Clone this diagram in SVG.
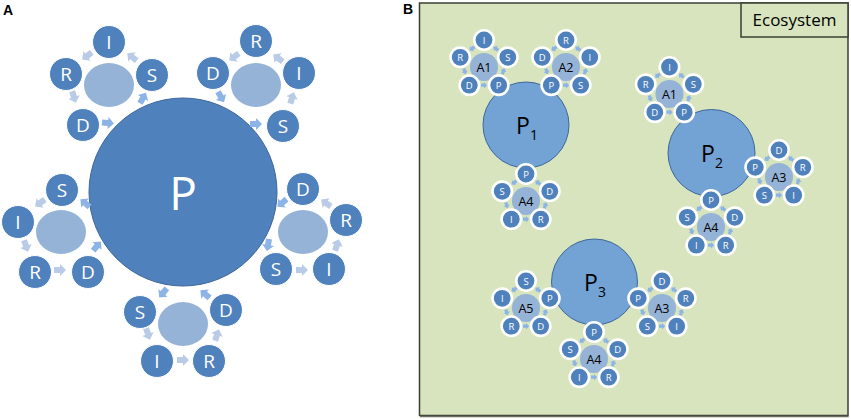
<svg xmlns="http://www.w3.org/2000/svg" xmlns:xlink="http://www.w3.org/1999/xlink" width="851" height="419" viewBox="0 0 851 419">
<style>
.bg{fill:#ffffff}
.pa{font-family:"Liberation Sans",Arial,sans-serif;font-weight:bold;font-size:14px;fill:#000}
.bigP{fill:#4f81bd;stroke:#3d6699;stroke-width:1}
.sat{fill:#4f81bd;stroke:#ffffff;stroke-width:1}
.ell{fill:#95b3d7}
.lt{font-family:"Open Sans","Noto Sans",sans-serif;fill:#fff;text-anchor:middle;dominant-baseline:central}
.la{font-size:19px}
.aL{fill:#b9cbe6}
.aD{fill:#8db4e6}
.eco{fill:#d7e4bd;stroke:#3a3f33;stroke-width:1.5}
.ecotxt{font-family:"Open Sans","Noto Sans",sans-serif;font-size:17px;fill:#000;text-anchor:middle}
.Pc{fill:#73a2d4;stroke:#3d679c;stroke-width:1}
.Pt{font-family:"Open Sans","Noto Sans",sans-serif;font-size:23px;fill:#000;text-anchor:middle}
.bs{fill:#4f81bd;stroke:#ffffff;stroke-width:2.6}
.bt{font-family:"Open Sans","Noto Sans",sans-serif;font-size:9.5px;fill:#fff;text-anchor:middle;dominant-baseline:central}
.ac{fill:#95b3d7}
.at{font-family:"Open Sans","Noto Sans",sans-serif;font-size:12.5px;fill:#000;text-anchor:middle;dominant-baseline:central}
.ta{fill:#8db4e6}
</style>
<defs>
<path id="ba" d="M-6,-3 H0 V-6 L6,0 L0,6 V3 H-6 Z"/>
<path id="sa" d="M-3,-1.6 H0 V-3.2 L3.2,0 L0,3.2 V1.6 H-3 Z"/>
<g id="tiny">
<use xlink:href="#sa" class="ta" transform="translate(-11.9,-16.4) rotate(144)"/>
<use xlink:href="#sa" class="ta" transform="translate(-19.3,6.3) rotate(72)"/>
<use xlink:href="#sa" class="ta" transform="translate(0,20.2) rotate(0)"/>
<use xlink:href="#sa" class="ta" transform="translate(19.3,6.3) rotate(-72)"/>
<use xlink:href="#sa" class="ta" transform="translate(11.9,-16.4) rotate(-144)"/>
</g>
</defs>
<rect class="bg" x="0" y="0" width="851" height="419"/>

<!-- Panel A -->
<text class="pa" x="3" y="15">A</text>
<g id="A-P"><circle class="bigP" cx="183" cy="192" r="94"/><text class="lt" x="183" y="192" font-size="46">P</text></g>

<g id="A-connectors">
<!-- top-left -->
<use xlink:href="#ba" class="aL" transform="translate(132,57) rotate(-142)"/>
<use xlink:href="#ba" class="aL" transform="translate(87,56) rotate(143)"/>
<use xlink:href="#ba" class="aL" transform="translate(74,97) rotate(72)"/>
<use xlink:href="#ba" class="aD" transform="translate(108,123) rotate(5)"/>
<use xlink:href="#ba" class="aD" transform="translate(143,98) rotate(-60)"/>
<!-- top-right -->
<use xlink:href="#ba" class="aL" transform="translate(278,58) rotate(-143)"/>
<use xlink:href="#ba" class="aL" transform="translate(234,57) rotate(143)"/>
<use xlink:href="#ba" class="aD" transform="translate(221,97) rotate(60)"/>
<use xlink:href="#ba" class="aD" transform="translate(256,124) rotate(0)"/>
<use xlink:href="#ba" class="aL" transform="translate(292,98) rotate(-73)"/>
<!-- left -->
<use xlink:href="#ba" class="aL" transform="translate(40,203) rotate(144)"/>
<use xlink:href="#ba" class="aL" transform="translate(26,246) rotate(71)"/>
<use xlink:href="#ba" class="aL" transform="translate(60,270) rotate(0)"/>
<use xlink:href="#ba" class="aD" transform="translate(97,246) rotate(-50)"/>
<use xlink:href="#ba" class="aD" transform="translate(85,203) rotate(-140)"/>
<!-- right -->
<use xlink:href="#ba" class="aL" transform="translate(326,203) rotate(-144)"/>
<use xlink:href="#ba" class="aD" transform="translate(282,203) rotate(140)"/>
<use xlink:href="#ba" class="aD" transform="translate(268,245) rotate(100)"/>
<use xlink:href="#ba" class="aL" transform="translate(302,270) rotate(0)"/>
<use xlink:href="#ba" class="aL" transform="translate(337,245) rotate(-71)"/>
<!-- bottom -->
<use xlink:href="#ba" class="aD" transform="translate(163,293) rotate(130)"/>
<use xlink:href="#ba" class="aL" transform="translate(148,334) rotate(71)"/>
<use xlink:href="#ba" class="aL" transform="translate(183,360) rotate(0)"/>
<use xlink:href="#ba" class="aL" transform="translate(217,335) rotate(-72)"/>
<use xlink:href="#ba" class="aD" transform="translate(205,294) rotate(-140)"/>
</g>

<g id="A-cluster-tl">
<ellipse class="ell" cx="109" cy="85" rx="25" ry="22"/>
<circle class="sat" cx="109" cy="42" r="16.5"/><text class="lt la" x="109" y="42">I</text>
<circle class="sat" cx="66" cy="74" r="16.5"/><text class="lt la" x="66" y="74">R</text>
<circle class="sat" cx="152" cy="75" r="16.5"/><text class="lt la" x="152" y="75">S</text>
<circle class="sat" cx="83" cy="125" r="16.5"/><text class="lt la" x="83" y="125">D</text>
</g>
<g id="A-cluster-tr">
<ellipse class="ell" cx="256" cy="85" rx="25" ry="22"/>
<circle class="sat" cx="256" cy="41" r="16.5"/><text class="lt la" x="256" y="41">R</text>
<circle class="sat" cx="213" cy="73" r="16.5"/><text class="lt la" x="213" y="73">D</text>
<circle class="sat" cx="299" cy="73" r="16.5"/><text class="lt la" x="299" y="73">I</text>
<circle class="sat" cx="283" cy="126" r="16.5"/><text class="lt la" x="283" y="126">S</text>
</g>
<g id="A-cluster-l">
<ellipse class="ell" cx="61" cy="232" rx="25" ry="22"/>
<circle class="sat" cx="62" cy="190" r="16.5"/><text class="lt la" x="62" y="190">S</text>
<circle class="sat" cx="18" cy="222" r="16.5"/><text class="lt la" x="18" y="222">I</text>
<circle class="sat" cx="35" cy="272" r="16.5"/><text class="lt la" x="35" y="272">R</text>
<circle class="sat" cx="88" cy="272" r="16.5"/><text class="lt la" x="88" y="272">D</text>
</g>
<g id="A-cluster-r">
<ellipse class="ell" cx="303" cy="232" rx="25" ry="22"/>
<circle class="sat" cx="303" cy="189" r="16.5"/><text class="lt la" x="303" y="189">D</text>
<circle class="sat" cx="346" cy="220" r="16.5"/><text class="lt la" x="346" y="220">R</text>
<circle class="sat" cx="329" cy="269" r="16.5"/><text class="lt la" x="329" y="269">I</text>
<circle class="sat" cx="276" cy="269" r="16.5"/><text class="lt la" x="276" y="269">S</text>
</g>
<g id="A-cluster-b">
<ellipse class="ell" cx="183" cy="324" rx="25" ry="22"/>
<circle class="sat" cx="140" cy="312" r="16.5"/><text class="lt la" x="140" y="312">S</text>
<circle class="sat" cx="226" cy="310" r="16.5"/><text class="lt la" x="226" y="310">D</text>
<circle class="sat" cx="157" cy="361" r="16.5"/><text class="lt la" x="157" y="361">I</text>
<circle class="sat" cx="209" cy="361" r="16.5"/><text class="lt la" x="209" y="361">R</text>
</g>

<!-- Panel B -->
<text class="pa" x="403" y="14">B</text>
<rect class="eco" x="419.5" y="3" width="428.5" height="412.5"/>
<line x1="420" y1="416.5" x2="848.5" y2="416.5" stroke="#6b6b60" stroke-width="1.5"/>
<g id="ecosystem-label">
<rect class="eco" x="741" y="3" width="107" height="34"/>
<text class="ecotxt" x="794.5" y="26">Ecosystem</text>
</g>

<g id="P1"><circle class="Pc" cx="526" cy="125" r="43"/><text class="Pt" x="527" y="134">P<tspan font-size="14" dy="6">1</tspan></text></g>
<g id="P2"><circle class="Pc" cx="711.5" cy="153" r="43.5"/><text class="Pt" x="712" y="162">P<tspan font-size="14" dy="6">2</tspan></text></g>
<g id="P3"><circle class="Pc" cx="594.5" cy="282" r="43"/><text class="Pt" x="595" y="291">P<tspan font-size="14" dy="6">3</tspan></text></g>

<g id="B-connectors">
<use xlink:href="#tiny" transform="translate(484,65)"/>
<use xlink:href="#tiny" transform="translate(566,65)"/>
<use xlink:href="#tiny" transform="translate(526,199)"/>
<use xlink:href="#tiny" transform="translate(669.5,92)"/>
<use xlink:href="#tiny" transform="translate(779,175)"/>
<use xlink:href="#tiny" transform="translate(711,225)"/>
<use xlink:href="#tiny" transform="translate(526,306)"/>
<use xlink:href="#tiny" transform="translate(662,306)"/>
<use xlink:href="#tiny" transform="translate(594,357)"/>
</g>

<g id="P1-A1" transform="translate(484,65)">
<circle class="ac" cx="0" cy="2" r="14"/><text class="at" x="0" y="2">A1</text>
<circle class="bs" cx="0" cy="-25" r="9.7"/><text class="bt" x="0" y="-25">I</text>
<circle class="bs" cx="-23.8" cy="-7.7" r="9.7"/><text class="bt" x="-23.8" y="-7.7">R</text>
<circle class="bs" cx="23.8" cy="-7.7" r="9.7"/><text class="bt" x="23.8" y="-7.7">S</text>
<circle class="bs" cx="-14.7" cy="20.2" r="9.7"/><text class="bt" x="-14.7" y="20.2">D</text>
<circle class="bs" cx="14.7" cy="20.2" r="9.7"/><text class="bt" x="14.7" y="20.2">P</text>
</g>
<g id="P1-A2" transform="translate(566,65)">
<circle class="ac" cx="0" cy="2" r="14"/><text class="at" x="0" y="2">A2</text>
<circle class="bs" cx="0" cy="-25" r="9.7"/><text class="bt" x="0" y="-25">R</text>
<circle class="bs" cx="-23.8" cy="-7.7" r="9.7"/><text class="bt" x="-23.8" y="-7.7">D</text>
<circle class="bs" cx="23.8" cy="-7.7" r="9.7"/><text class="bt" x="23.8" y="-7.7">I</text>
<circle class="bs" cx="-14.7" cy="20.2" r="9.7"/><text class="bt" x="-14.7" y="20.2">P</text>
<circle class="bs" cx="14.7" cy="20.2" r="9.7"/><text class="bt" x="14.7" y="20.2">S</text>
</g>
<g id="P1-A4" transform="translate(526,199)">
<circle class="ac" cx="0" cy="2" r="14"/><text class="at" x="0" y="2">A4</text>
<circle class="bs" cx="0" cy="-25" r="9.7"/><text class="bt" x="0" y="-25">P</text>
<circle class="bs" cx="-23.8" cy="-7.7" r="9.7"/><text class="bt" x="-23.8" y="-7.7">S</text>
<circle class="bs" cx="23.8" cy="-7.7" r="9.7"/><text class="bt" x="23.8" y="-7.7">D</text>
<circle class="bs" cx="-14.7" cy="20.2" r="9.7"/><text class="bt" x="-14.7" y="20.2">I</text>
<circle class="bs" cx="14.7" cy="20.2" r="9.7"/><text class="bt" x="14.7" y="20.2">R</text>
</g>
<g id="P2-A1" transform="translate(669.5,92)">
<circle class="ac" cx="0" cy="2" r="14"/><text class="at" x="0" y="2">A1</text>
<circle class="bs" cx="0" cy="-25" r="9.7"/><text class="bt" x="0" y="-25">I</text>
<circle class="bs" cx="-23.8" cy="-7.7" r="9.7"/><text class="bt" x="-23.8" y="-7.7">R</text>
<circle class="bs" cx="23.8" cy="-7.7" r="9.7"/><text class="bt" x="23.8" y="-7.7">S</text>
<circle class="bs" cx="-14.7" cy="20.2" r="9.7"/><text class="bt" x="-14.7" y="20.2">D</text>
<circle class="bs" cx="14.7" cy="20.2" r="9.7"/><text class="bt" x="14.7" y="20.2">P</text>
</g>
<g id="P2-A3" transform="translate(779,175)">
<circle class="ac" cx="0" cy="2" r="14"/><text class="at" x="0" y="2">A3</text>
<circle class="bs" cx="0" cy="-25" r="9.7"/><text class="bt" x="0" y="-25">D</text>
<circle class="bs" cx="-23.8" cy="-7.7" r="9.7"/><text class="bt" x="-23.8" y="-7.7">P</text>
<circle class="bs" cx="23.8" cy="-7.7" r="9.7"/><text class="bt" x="23.8" y="-7.7">R</text>
<circle class="bs" cx="-14.7" cy="20.2" r="9.7"/><text class="bt" x="-14.7" y="20.2">S</text>
<circle class="bs" cx="14.7" cy="20.2" r="9.7"/><text class="bt" x="14.7" y="20.2">I</text>
</g>
<g id="P2-A4" transform="translate(711,225)">
<circle class="ac" cx="0" cy="2" r="14"/><text class="at" x="0" y="2">A4</text>
<circle class="bs" cx="0" cy="-25" r="9.7"/><text class="bt" x="0" y="-25">P</text>
<circle class="bs" cx="-23.8" cy="-7.7" r="9.7"/><text class="bt" x="-23.8" y="-7.7">S</text>
<circle class="bs" cx="23.8" cy="-7.7" r="9.7"/><text class="bt" x="23.8" y="-7.7">D</text>
<circle class="bs" cx="-14.7" cy="20.2" r="9.7"/><text class="bt" x="-14.7" y="20.2">I</text>
<circle class="bs" cx="14.7" cy="20.2" r="9.7"/><text class="bt" x="14.7" y="20.2">R</text>
</g>
<g id="P3-A5" transform="translate(526,306)">
<circle class="ac" cx="0" cy="2" r="14"/><text class="at" x="0" y="2">A5</text>
<circle class="bs" cx="0" cy="-25" r="9.7"/><text class="bt" x="0" y="-25">S</text>
<circle class="bs" cx="-23.8" cy="-7.7" r="9.7"/><text class="bt" x="-23.8" y="-7.7">I</text>
<circle class="bs" cx="23.8" cy="-7.7" r="9.7"/><text class="bt" x="23.8" y="-7.7">P</text>
<circle class="bs" cx="-14.7" cy="20.2" r="9.7"/><text class="bt" x="-14.7" y="20.2">R</text>
<circle class="bs" cx="14.7" cy="20.2" r="9.7"/><text class="bt" x="14.7" y="20.2">D</text>
</g>
<g id="P3-A3" transform="translate(662,306)">
<circle class="ac" cx="0" cy="2" r="14"/><text class="at" x="0" y="2">A3</text>
<circle class="bs" cx="0" cy="-25" r="9.7"/><text class="bt" x="0" y="-25">D</text>
<circle class="bs" cx="-23.8" cy="-7.7" r="9.7"/><text class="bt" x="-23.8" y="-7.7">P</text>
<circle class="bs" cx="23.8" cy="-7.7" r="9.7"/><text class="bt" x="23.8" y="-7.7">R</text>
<circle class="bs" cx="-14.7" cy="20.2" r="9.7"/><text class="bt" x="-14.7" y="20.2">S</text>
<circle class="bs" cx="14.7" cy="20.2" r="9.7"/><text class="bt" x="14.7" y="20.2">I</text>
</g>
<g id="P3-A4" transform="translate(594,357)">
<circle class="ac" cx="0" cy="2" r="14"/><text class="at" x="0" y="2">A4</text>
<circle class="bs" cx="0" cy="-25" r="9.7"/><text class="bt" x="0" y="-25">P</text>
<circle class="bs" cx="-23.8" cy="-7.7" r="9.7"/><text class="bt" x="-23.8" y="-7.7">S</text>
<circle class="bs" cx="23.8" cy="-7.7" r="9.7"/><text class="bt" x="23.8" y="-7.7">D</text>
<circle class="bs" cx="-14.7" cy="20.2" r="9.7"/><text class="bt" x="-14.7" y="20.2">I</text>
<circle class="bs" cx="14.7" cy="20.2" r="9.7"/><text class="bt" x="14.7" y="20.2">R</text>
</g>
</svg>
